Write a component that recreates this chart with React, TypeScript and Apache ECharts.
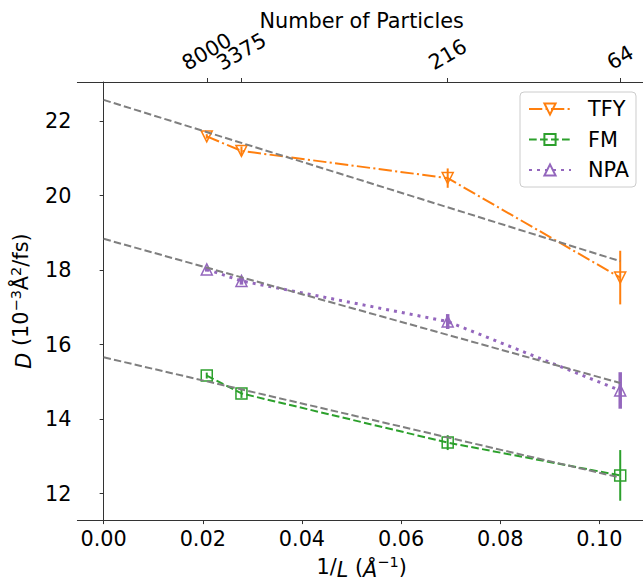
import React, { useEffect, useRef } from 'react';
import * as echarts from 'echarts';

// 1/L positions (Å^-1) and matching particle counts
const invL = [0.0208, 0.0278, 0.0694, 0.1042];
const particleCounts = ['8000', '3375', '216', '64'];
const xTicks = [0, 0.02, 0.04, 0.06, 0.08, 0.1];
const yTicks = [12, 14, 16, 18, 20, 22];

// Diffusion coefficients (10^-3 Å^2/fs) and errors
const tfy = [21.59, 21.2, 20.47, 17.8];
const tfyErr = [0.06, 0.12, 0.26, 0.72];
const fm = [15.17, 14.69, 13.37, 12.49];
const fmErr = [0.08, 0.12, 0.2, 0.68];
const npa = [18.02, 17.71, 16.62, 14.77];
const npaErr = [0.06, 0.1, 0.2, 0.49];

// Linear fits (endpoints)
const fitX = [0, 0.1042];
const tfyFit = [22.57, 18.24];
const fmFit = [15.66, 12.43];
const npaFit = [18.84, 14.97];

const FONT = 'DejaVu Sans';
const FS = 20.8;

function makeSeries(
  name: string,
  ys: number[],
  errs: number[],
  fit: number[],
  color: string,
  dash: any,
  lw: number,
  errLw: number,
  symbol: string,
  rotate: number
) {
  return [
    {
      type: 'custom',
      name: name + ' err',
      data: invL.map((x, i) => [x, ys[i] - errs[i], ys[i] + errs[i]]),
      encode: { x: 0, y: [1, 2] },
      z: 2,
      renderItem: (params: any, api: any) => {
        const p1 = api.coord([api.value(0), api.value(1)]);
        const p2 = api.coord([api.value(0), api.value(2)]);
        return {
          type: 'line',
          shape: { x1: p1[0], y1: p1[1], x2: p2[0], y2: p2[1] },
          style: { stroke: color, lineWidth: errLw },
        };
      },
    },
    {
      type: 'line',
      name,
      data: invL.map((x, i) => [x, ys[i]]),
      symbol,
      symbolSize: 11,
      symbolRotate: rotate,
      showSymbol: true,
      z: 3,
      lineStyle: { color, width: lw, type: dash },
      itemStyle: { color: 'rgba(255,255,255,0)', borderColor: color, borderWidth: 1.5 },
    },
    {
      type: 'line',
      name: name + ' fit',
      data: fitX.map((x, i) => [x, fit[i]]),
      symbol: 'none',
      z: 4,
      lineStyle: { color: '#7f7f7f', width: 2, type: [7.4, 3.2] },
    },
  ];
}

export default function App() {
  const ref = useRef<HTMLDivElement>(null);
  useEffect(() => {
    if (!ref.current) return;
    const chart = echarts.init(ref.current, null, { renderer: 'svg' });
    const sup = { fontSize: 14.5, verticalAlign: 'top', lineHeight: 14, fontFamily: FONT, color: '#000' };
    const option: any = {
      animation: false,
      textStyle: { fontFamily: FONT },
      grid: { left: 72, top: 82, width: 574, height: 447 },
      legend: {
        data: ['TFY', 'FM', 'NPA'],
        orient: 'vertical',
        left: 520,
        top: 92,
        itemWidth: 42,
        itemHeight: 14,
        itemGap: 6.5,
        padding: [5, 7, 5, 8],
        borderColor: '#cccccc',
        borderWidth: 1,
        borderRadius: 4,
        backgroundColor: 'rgba(255,255,255,0.8)',
        textStyle: { fontSize: FS, color: '#000', fontFamily: FONT, lineHeight: 24, padding: [0, 0, 0, 12] },
      },
      xAxis: [
        {
          type: 'value',
          position: 'bottom',
          min: -0.0053,
          max: 0.1094,
          splitLine: { show: false },
          axisLine: { lineStyle: { color: '#333', width: 1 } },
          axisTick: { customValues: xTicks, length: 4, lineStyle: { color: '#333' } },
          axisLabel: {
            customValues: xTicks,
            formatter: (v: number) => v.toFixed(2),
            fontSize: FS,
            color: '#000',
            fontFamily: FONT,
            margin: 8,
          },
          name: '1/{i|L} ({i|Å}{s|−1})',
          nameLocation: 'middle',
          nameGap: 32,
          nameTextStyle: {
            fontSize: FS,
            color: '#000',
            fontFamily: FONT,
            lineHeight: 26,
            verticalAlign: 'top',
            rich: {
              i: { fontStyle: 'italic', fontSize: FS, fontFamily: FONT, color: '#000', lineHeight: 26, verticalAlign: 'bottom' },
              s: sup,
            },
          },
        },
        {
          type: 'value',
          position: 'top',
          min: -0.0053,
          max: 0.1094,
          splitLine: { show: false },
          axisLine: { lineStyle: { color: '#333', width: 1 } },
          axisTick: { customValues: invL, length: 4, lineStyle: { color: '#333' } },
          axisLabel: { show: false },
          name: 'Number of Particles',
          nameLocation: 'middle',
          nameGap: 51,
          nameTextStyle: { fontSize: FS, color: '#000', fontFamily: FONT },
        },
      ],
      yAxis: {
        type: 'value',
        min: 11.29,
        max: 23.05,
        splitLine: { show: false },
        axisLine: { show: true, lineStyle: { color: '#333', width: 1 } },
        axisTick: { show: true, customValues: yTicks, length: 4, lineStyle: { color: '#333' } },
        axisLabel: {
          customValues: yTicks,
          fontSize: FS,
          color: '#000',
          fontFamily: FONT,
          margin: 6,
        },
        name: '{i|D} (10{s|−3}Å{s|2}/fs)',
        nameLocation: 'middle',
        nameRotate: 90,
        nameGap: 30,
        nameTextStyle: {
          fontSize: FS,
          color: '#000',
          fontFamily: FONT,
          lineHeight: 26,
          rich: {
            i: { fontStyle: 'italic', fontSize: FS, fontFamily: FONT, color: '#000', lineHeight: 26, verticalAlign: 'bottom' },
            s: sup,
          },
        },
      },
      series: [
        ...makeSeries('TFY', tfy, tfyErr, tfyFit, '#ff7f0e', [13.3, 3.3, 2.1, 3.3], 2, 2, 'triangle', 180),
        ...makeSeries('FM', fm, fmErr, fmFit, '#2ca02c', [7.7, 3.3], 2, 2, 'rect', 0),
        ...makeSeries('NPA', npa, npaErr, npaFit, '#9467bd', [3, 5], 3, 3.5, 'triangle', 0),
        {
          // rotated tick labels of the top "Number of Particles" axis
          type: 'custom',
          name: 'top labels',
          xAxisIndex: 1,
          data: invL.map((x, i) => [x, i]),
          encode: { x: 0 },
          clip: false,
          silent: true,
          renderItem: (params: any, api: any) => {
            const i = api.value(1);
            const label = particleCounts[i];
            const px = api.coord([api.value(0), 0])[0];
            const top = params.coordSys.y;
            const w = label.length * 0.636 * FS;
            const half = (0.45 * w + 13) / 2;
            return {
              type: 'text',
              x: px,
              y: top - 12 - half,
              rotation: Math.PI / 6,
              style: {
                text: label,
                fontSize: FS,
                fontFamily: FONT,
                fill: '#000',
                align: 'center',
                verticalAlign: 'middle',
              },
            };
          },
        },
      ],
    };
    chart.setOption(option);
    return () => chart.dispose();
  }, []);
  return (
    <div
      ref={ref}
      style={{ position: 'fixed', left: 0, top: 0, width: 660, height: 585, background: '#fff' }}
    />
  );
}
